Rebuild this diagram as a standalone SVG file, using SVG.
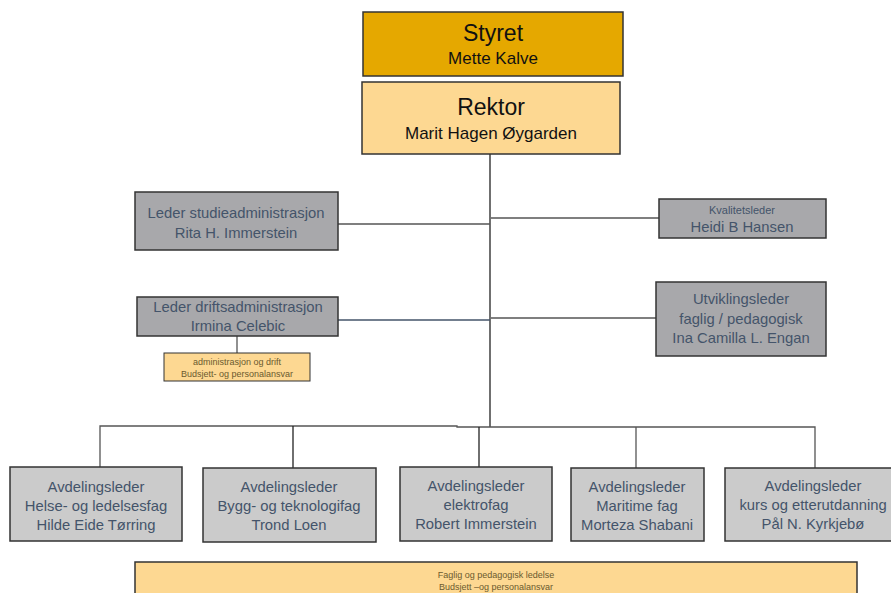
<svg xmlns="http://www.w3.org/2000/svg" width="891" height="593" viewBox="0 0 891 593">
<style>
.box{stroke:#333;stroke-width:1.5}
.gold{fill:#E5A800}
.light{fill:#FDD892}
.gray{fill:#A8A8AB}
.lgray{fill:#CBCBCB}
.t{font-family:"Liberation Sans",Arial,sans-serif;text-anchor:middle}
.blk{fill:#111}
.bg{fill:#44546A}
.og{fill:#6B5A2E}
.ln{stroke:#222;stroke-width:1.3;fill:none}
.lg{stroke:#555;stroke-width:1.3;fill:none}
.lb{stroke:#44546A;stroke-width:1.3;fill:none}
</style>
<rect width="891" height="593" fill="#fff"/>
<g id="connectors">
<line class="ln" x1="490" y1="154" x2="490" y2="427"/>
<line class="lg" x1="338" y1="224" x2="490" y2="224"/>
<line class="lg" x1="491" y1="218" x2="659" y2="218"/>
<line class="lb" x1="338" y1="320" x2="490" y2="320"/>
<line class="lg" x1="491" y1="318" x2="656" y2="318"/>
<line class="lg" x1="237" y1="336" x2="237" y2="353"/>
<polyline class="lg" points="100,467 100,426 457,426 457,427 815,427 815,468"/>
<line class="ln" x1="293" y1="426" x2="293" y2="469"/>
<line class="ln" x1="479" y1="427" x2="479" y2="467"/>
<line class="lg" x1="636" y1="427" x2="636" y2="468"/>
</g>
<g id="styret">
<rect class="box gold" x="363" y="12" width="260" height="64"/>
<text class="t blk" x="493" y="41" font-size="23">Styret</text>
<text class="t blk" x="493" y="64" font-size="17">Mette Kalve</text>
</g>
<g id="rektor">
<rect class="box light" x="362" y="82" width="258" height="72"/>
<text class="t blk" x="491" y="115" font-size="23">Rektor</text>
<text class="t blk" x="491" y="139" font-size="17">Marit Hagen Øygarden</text>
</g>
<g id="studieadm">
<rect class="box gray" x="135" y="192" width="203" height="58"/>
<text class="t bg" x="236" y="218" font-size="14.8">Leder studieadministrasjon</text>
<text class="t bg" x="236" y="238" font-size="14.8">Rita H. Immerstein</text>
</g>
<g id="kvalitet">
<rect class="box gray" x="659" y="199" width="167" height="39"/>
<text class="t bg" x="742" y="214" font-size="11">Kvalitetsleder</text>
<text class="t bg" x="742" y="232" font-size="14.8">Heidi B Hansen</text>
</g>
<g id="driftsadm">
<rect class="box gray" x="137" y="297" width="201" height="39"/>
<text class="t bg" x="238" y="312" font-size="14.8">Leder driftsadministrasjon</text>
<text class="t bg" x="238" y="331" font-size="14.8">Irmina Celebic</text>
</g>
<g id="drift-ansvar">
<rect class="box light" x="164" y="353" width="146" height="28" style="stroke-width:1"/>
<text class="t og" x="237" y="365" font-size="9">administrasjon og drift</text>
<text class="t og" x="237" y="377" font-size="9">Budsjett- og personalansvar</text>
</g>
<g id="utvikling">
<rect class="box gray" x="656" y="282" width="170" height="74"/>
<text class="t bg" x="741" y="304" font-size="14.8">Utviklingsleder</text>
<text class="t bg" x="741" y="324" font-size="14.8">faglig / pedagogisk</text>
<text class="t bg" x="741" y="343" font-size="14.8">Ina Camilla L. Engan</text>
</g>
<g id="avd-helse">
<rect class="box lgray" x="10" y="467" width="172" height="74"/>
<text class="t bg" x="96" y="492" font-size="14.8">Avdelingsleder</text>
<text class="t bg" x="96" y="511" font-size="14.8">Helse- og ledelsesfag</text>
<text class="t bg" x="96" y="530" font-size="14.8">Hilde Eide Tørring</text>
</g>
<g id="avd-bygg">
<rect class="box lgray" x="203" y="468" width="173" height="74"/>
<text class="t bg" x="289" y="492" font-size="14.8">Avdelingsleder</text>
<text class="t bg" x="289" y="511" font-size="14.8">Bygg- og teknologifag</text>
<text class="t bg" x="289" y="530" font-size="14.8">Trond Loen</text>
</g>
<g id="avd-elektro">
<rect class="box lgray" x="400" y="467" width="152" height="74"/>
<text class="t bg" x="476" y="491" font-size="14.8">Avdelingsleder</text>
<text class="t bg" x="476" y="510" font-size="14.8">elektrofag</text>
<text class="t bg" x="476" y="529" font-size="14.8">Robert Immerstein</text>
</g>
<g id="avd-maritim">
<rect class="box lgray" x="571" y="468" width="133" height="73"/>
<text class="t bg" x="637" y="492" font-size="14.8">Avdelingsleder</text>
<text class="t bg" x="637" y="511" font-size="14.8">Maritime fag</text>
<text class="t bg" x="637" y="530" font-size="14.8">Morteza Shabani</text>
</g>
<g id="avd-kurs">
<rect class="box lgray" x="725" y="468" width="170" height="73"/>
<text class="t bg" x="813" y="491" font-size="14.8">Avdelingsleder</text>
<text class="t bg" x="813" y="510" font-size="14.8">kurs og etterutdanning</text>
<text class="t bg" x="813" y="529" font-size="14.8">Pål N. Kyrkjebø</text>
</g>
<g id="faglig-ansvar">
<rect class="box light" x="135" y="562" width="722" height="40"/>
<text class="t og" x="496" y="578" font-size="9">Faglig og pedagogisk ledelse</text>
<text class="t og" x="496" y="590" font-size="9">Budsjett –og personalansvar</text>
</g>
</svg>
